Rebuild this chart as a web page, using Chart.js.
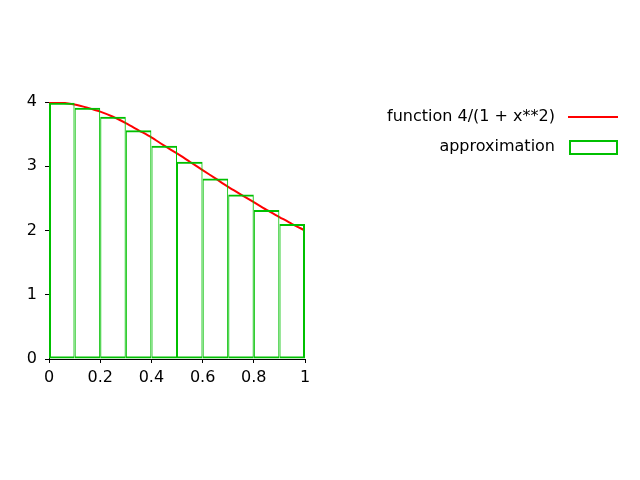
<!DOCTYPE html>
<html>
<head>
<meta charset="utf-8">
<script src="https://cdn.jsdelivr.net/npm/chart.js@4/dist/chart.umd.min.js"></script>
<style>
  html, body { margin: 0; padding: 0; background: #fff; }
  #wrap { width: 640px; height: 480px; position: relative; }
</style>
</head>
<body>
<div id="wrap"><canvas id="chart"></canvas></div>
<script>
// midpoint rectangles
const barCenters = [0.05, 0.15, 0.25, 0.35, 0.45, 0.55, 0.65, 0.75, 0.85, 0.95];
const barHeights = [3.99, 3.91, 3.77, 3.56, 3.32, 3.07, 2.81, 2.56, 2.32, 2.10];

// sampled curve of the function
const curveX = [0, 0.05, 0.1, 0.15, 0.2, 0.25, 0.3, 0.35, 0.4, 0.45, 0.5,
                0.55, 0.6, 0.65, 0.7, 0.75, 0.8, 0.85, 0.9, 0.95, 1];
const curveY = [4.0, 3.99, 3.96, 3.91, 3.85, 3.77, 3.67, 3.56, 3.45, 3.32, 3.2,
                3.07, 2.94, 2.81, 2.68, 2.56, 2.44, 2.32, 2.21, 2.1, 2.0];

const xTicks = [0, 0.2, 0.4, 0.6, 0.8, 1];
const yTicks = [0, 1, 2, 3, 4];

const seriesLabels = ['function 4/(1 + x**2)', 'approximation'];
const FONT_SIZE = 16;
const FONT_FAMILY = '"DejaVu Sans", sans-serif';

const legendPlugin = {
  id: 'sideLegend',
  afterDraw(chart) {
    const ctx = chart.ctx;
    ctx.save();
    ctx.font = FONT_SIZE + 'px ' + FONT_FAMILY;
    ctx.fillStyle = '#000';
    ctx.textAlign = 'right';
    ctx.textBaseline = 'middle';
    ctx.fillText(seriesLabels[0], 555, 117);
    ctx.fillText(seriesLabels[1], 555, 147);
    ctx.strokeStyle = chart.data.datasets[0].borderColor;
    ctx.lineWidth = 2;
    ctx.beginPath();
    ctx.moveTo(568, 117);
    ctx.lineTo(618, 117);
    ctx.stroke();
    ctx.strokeStyle = chart.data.datasets[1].borderColor;
    ctx.strokeRect(570, 141, 47, 13);
    ctx.restore();
  }
};

const tickFont = { family: FONT_FAMILY, size: FONT_SIZE };

// neighbouring bars share an edge, so inner sides get half the width each
function barBorder(ctx) {
  const last = barCenters.length - 1;
  return {
    top: 2,
    bottom: 2,
    left: ctx.dataIndex === 0 ? 2 : 1,
    right: ctx.dataIndex === last ? 2 : 1
  };
}

new Chart(document.getElementById('chart'), {
  type: 'bar',
  data: {
    datasets: [
      {
        type: 'line',
        label: seriesLabels[0],
        data: curveX.map((x, i) => ({ x, y: curveY[i] })),
        borderColor: '#ff0000',
        borderWidth: 2,
        pointRadius: 0,
        tension: 0.3,
        order: 2
      },
      {
        type: 'bar',
        label: seriesLabels[1],
        data: barCenters.map((x, i) => ({ x, y: barHeights[i] })),
        borderColor: '#00c000',
        backgroundColor: 'rgba(0,0,0,0)',
        borderWidth: barBorder,
        borderSkipped: false,
        inflateAmount: 0,
        barPercentage: 1,
        categoryPercentage: 1,
        order: 1
      }
    ]
  },
  options: {
    responsive: true,
    maintainAspectRatio: false,
    animation: false,
    layout: { padding: { left: 0, right: 335, top: 102, bottom: 0 } },
    plugins: {
      legend: { display: false },
      tooltip: { enabled: false }
    },
    scales: {
      x: {
        type: 'linear',
        min: 0,
        max: 1,
        offset: false,
        afterBuildTicks: (s) => { s.ticks = xTicks.map((v) => ({ value: v })); },
        afterFit: (s) => { s.height = 121; },
        grid: { offset: false, drawOnChartArea: false, drawTicks: true, tickLength: 4, color: '#000' },
        border: { color: '#000', width: 1 },
        ticks: { color: '#000', font: tickFont, padding: 5, maxRotation: 0, callback: (v) => String(v) }
      },
      y: {
        min: 0,
        max: 4,
        afterBuildTicks: (s) => { s.ticks = yTicks.map((v) => ({ value: v })); },
        afterFit: (s) => { s.width = 49; },
        grid: { drawOnChartArea: false, drawTicks: true, tickLength: 4, color: '#000' },
        border: { color: '#000', width: 1 },
        ticks: { color: '#000', font: tickFont, padding: 8, callback: (v) => String(v) }
      }
    }
  },
  plugins: [legendPlugin]
});
</script>
</body>
</html>
